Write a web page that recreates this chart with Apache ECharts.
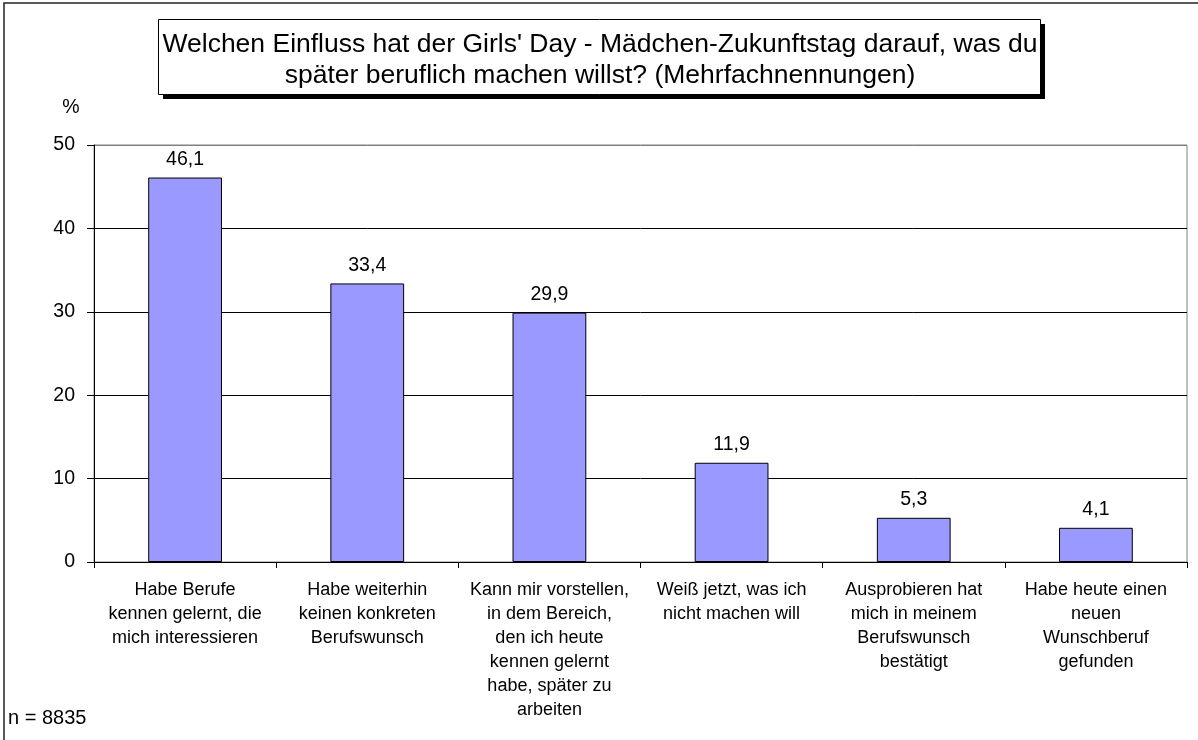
<!DOCTYPE html>
<html>
<head>
<meta charset="utf-8">
<title>Girls' Day</title>
<script src="https://cdn.jsdelivr.net/npm/echarts@6/dist/echarts.min.js"></script>
<style>
  html, body { margin: 0; padding: 0; background: #fff; }
  #chart { width: 1198px; height: 740px; }
</style>
</head>
<body>
<div id="chart"></div>
<script>
// Kategorien (Antworten)
var categories = [
    'Habe Berufe\nkennen gelernt, die\nmich interessieren',
    'Habe weiterhin\nkeinen konkreten\nBerufswunsch',
    'Kann mir vorstellen,\nin dem Bereich,\nden ich heute\nkennen gelernt\nhabe, später zu\narbeiten',
    'Weiß jetzt, was ich\nnicht machen will',
    'Ausprobieren hat\nmich in meinem\nBerufswunsch\nbestätigt',
    'Habe heute einen\nneuen\nWunschberuf\ngefunden'
];
// Prozentwerte
var values = [46.1, 33.4, 29.9, 11.9, 5.3, 4.1];
var yTicks = [0, 10, 20, 30, 40, 50];

var titleLines = [
    "Welchen Einfluss hat der Girls' Day - Mädchen-Zukunftstag darauf, was du",
    "später beruflich machen willst? (Mehrfachnennungen)"
];

var font = '"Liberation Sans", Arial, sans-serif';

var myChart = echarts.init(document.getElementById('chart'));
myChart.setOption({
    animation: false,
    backgroundColor: '#fff',
    grid: {
        left: 94,
        right: 11,
        top: 145,
        bottom: 178,
        show: true,
        borderColor: '#808080',
        borderWidth: 1
    },
    xAxis: {
        type: 'category',
        data: categories,
        axisLine: { lineStyle: { color: '#000', width: 1 } },
        axisTick: { show: true, length: 6, lineStyle: { color: '#000' } },
        axisLabel: {
            color: '#000',
            fontFamily: font,
            fontSize: 18,
            lineHeight: 24,
            margin: 16,
            interval: 0,
            align: 'center'
        }
    },
    yAxis: {
        type: 'value',
        min: yTicks[0],
        max: yTicks[yTicks.length - 1],
        interval: 10,
        axisLine: { show: true, lineStyle: { color: '#000' } },
        axisTick: { show: true, length: 7, lineStyle: { color: '#000' } },
        axisLabel: { color: '#000', fontFamily: font, fontSize: 19.5, margin: 19 },
        splitLine: {
            show: true,
            lineStyle: { color: ['#000', '#000', '#000', '#000', '#000', '#808080'], width: 1 }
        }
    },
    series: [
        {
            type: 'bar',
            data: values,
            barWidth: '40.5%',
            itemStyle: {
                color: '#9999FF',
                borderColor: '#000',
                borderWidth: 1
            },
            label: {
                show: true,
                position: 'top',
                distance: 8,
                color: '#000',
                fontFamily: font,
                fontSize: 19.5,
                formatter: function (p) {
                    return String(p.value).replace('.', ',');
                }
            }
        }
    ],
    graphic: [
        // Rahmen
        {
            type: 'rect',
            shape: { x: 4, y: 3, width: 1400, height: 900 },
            style: { fill: 'none', stroke: '#222', lineWidth: 1.5 },
            silent: true,
            z: 0
        },
        // Titelbox mit Schatten
        {
            type: 'rect',
            shape: { x: 163, y: 24, width: 882, height: 75 },
            style: { fill: '#000' },
            z: 10
        },
        {
            type: 'rect',
            shape: { x: 158.5, y: 19.5, width: 882, height: 75 },
            style: { fill: '#fff', stroke: '#000', lineWidth: 1 },
            z: 11
        },
        {
            type: 'text',
            x: 600,
            y: 60,
            style: {
                text: titleLines.join('\n'),
                fontFamily: font,
                fontSize: 26.5,
                lineHeight: 31,
                fill: '#000',
                align: 'center',
                verticalAlign: 'middle'
            },
            z: 12
        },
        {
            type: 'text',
            x: 71,
            y: 108,
            style: {
                text: '%',
                fontFamily: font,
                fontSize: 19.5,
                fill: '#000',
                align: 'center',
                verticalAlign: 'middle'
            },
            z: 12
        },
        {
            type: 'text',
            x: 8,
            y: 718,
            style: {
                text: 'n = 8835',
                fontFamily: font,
                fontSize: 20,
                fill: '#000',
                verticalAlign: 'middle'
            },
            z: 12
        }
    ]
});
</script>
</body>
</html>
